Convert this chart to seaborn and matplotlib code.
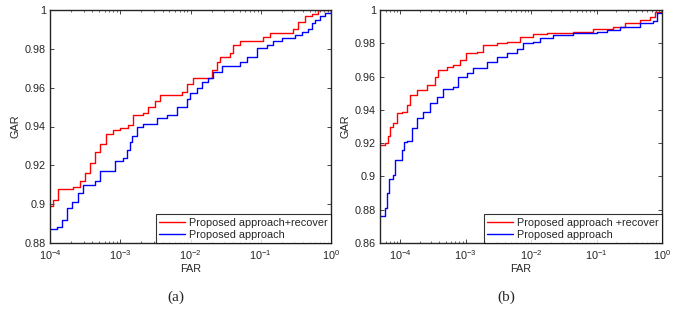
import numpy as np
import pandas as pd
import matplotlib
matplotlib.use("Agg")
import matplotlib.pyplot as plt
import seaborn as sns

# panel (a): log10(FAR) and GAR
a_recover_lgfar = [-4.000, -3.957, -3.886, -3.715, -3.673, -3.573, -3.502, -3.431, -3.359, -3.288,
                   -3.203, -3.103, -3.004, -2.890, -2.819, -2.676, -2.605, -2.505, -2.434, -2.249,
                   -2.121, -2.050, -1.964, -1.751, -1.694, -1.623, -1.580, -1.438, -1.395, -1.295,
                   -1.039, -0.968, -0.868, -0.541, -0.470, -0.370, -0.270, -0.185, 0.000]
a_recover_gar = [0.899, 0.902, 0.908, 0.908, 0.909, 0.912, 0.916, 0.921, 0.927, 0.931,
                 0.936, 0.938, 0.939, 0.941, 0.946, 0.947, 0.950, 0.953, 0.956, 0.956,
                 0.958, 0.962, 0.965, 0.965, 0.969, 0.973, 0.976, 0.978, 0.982, 0.984,
                 0.984, 0.986, 0.988, 0.990, 0.994, 0.997, 0.998, 1.000, 1.000]

a_plain_lgfar = [-4.000, -3.900, -3.829, -3.758, -3.687, -3.601, -3.530, -3.359, -3.288, -3.103,
                 -3.075, -2.961, -2.904, -2.861, -2.833, -2.762, -2.676, -2.477, -2.335, -2.192,
                 -2.050, -2.007, -1.907, -1.836, -1.751, -1.680, -1.552, -1.324, -1.295, -1.196,
                 -1.053, -0.911, -0.826, -0.698, -0.512, -0.413, -0.327, -0.270, -0.228, -0.157,
                 -0.085, 0.000]
a_plain_gar = [0.887, 0.888, 0.892, 0.898, 0.901, 0.906, 0.910, 0.912, 0.917, 0.917,
               0.922, 0.924, 0.928, 0.932, 0.935, 0.940, 0.9415, 0.9446, 0.946, 0.950,
               0.954, 0.957, 0.960, 0.963, 0.965, 0.968, 0.971, 0.971, 0.973, 0.9757,
               0.9805, 0.982, 0.984, 0.9856, 0.987, 0.9887, 0.990, 0.9933, 0.995, 0.997,
               0.9985, 1.000]

# panel (b)
b_recover_lgfar = [-4.306, -4.229, -4.183, -4.153, -4.107, -4.046, -3.969, -3.893, -3.847, -3.740,
                   -3.587, -3.465, -3.419, -3.281, -3.190, -3.083, -2.994, -2.823, -2.731, -2.517,
                   -2.364, -2.165, -1.966, -1.752, -1.355, -1.049, -0.743, -0.560, -0.330, -0.177,
                   -0.101, 0.000]
b_recover_gar = [0.919, 0.920, 0.924, 0.930, 0.932, 0.938, 0.939, 0.943, 0.949, 0.952,
                 0.955, 0.960, 0.964, 0.966, 0.967, 0.970, 0.974, 0.975, 0.979, 0.980,
                 0.981, 0.984, 0.9856, 0.986, 0.987, 0.9885, 0.990, 0.992, 0.994, 0.9958,
                 0.9988, 1.000]

b_plain_lgfar = [-4.306, -4.229, -4.199, -4.168, -4.107, -4.076, -4.031, -3.969, -3.939, -3.893,
                 -3.817, -3.740, -3.648, -3.541, -3.434, -3.343, -3.190, -3.113, -2.976, -2.884,
                 -2.670, -2.517, -2.364, -2.211, -2.119, -1.966, -1.859, -1.661, -1.355, -0.988,
                 -0.835, -0.636, -0.330, -0.131, -0.070, 0.000]
b_plain_gar = [0.8764, 0.881, 0.890, 0.8986, 0.901, 0.910, 0.910, 0.916, 0.9208, 0.9215,
               0.929, 0.935, 0.9388, 0.944, 0.948, 0.9525, 0.954, 0.960, 0.962, 0.965,
               0.9688, 0.9718, 0.974, 0.9766, 0.980, 0.981, 0.983, 0.985, 0.986, 0.9868,
               0.988, 0.9898, 0.992, 0.9934, 0.998, 1.000]

label_recover_a = "Proposed approach+recover"
label_recover_b = "Proposed approach +recover"
label_plain = "Proposed approach"

sns.set_style("ticks")
plt.rcParams["font.family"] = ["Liberation Sans", "DejaVu Sans"]
plt.rcParams["mathtext.fontset"] = "custom"
plt.rcParams["mathtext.rm"] = "Liberation Sans"
plt.rcParams["xtick.direction"] = "in"
plt.rcParams["ytick.direction"] = "in"

fig = plt.figure(figsize=(6.78, 3.11), dpi=100)
ax_a = fig.add_axes([50 / 678, 1 - 243 / 311, 281 / 678, 233 / 311])
ax_b = fig.add_axes([380 / 678, 1 - 243 / 311, 282 / 678, 233 / 311])


def draw_panel(ax, rec_x, rec_y, pl_x, pl_y, rec_label, xlim, ylim, yticks):
    sns.lineplot(x=10 ** np.array(rec_x), y=rec_y, ax=ax, color="red", lw=1.0,
                 drawstyle="steps-post", estimator=None, sort=False, label=rec_label)
    sns.lineplot(x=10 ** np.array(pl_x), y=pl_y, ax=ax, color="blue", lw=1.0,
                 drawstyle="steps-post", estimator=None, sort=False, label=label_plain)
    ax.set_xscale("log")
    ax.set_xlim(*xlim)
    ax.set_ylim(*ylim)
    ax.set_yticks(yticks)
    ax.set_yticklabels([("%g" % t) for t in yticks])
    ax.set_xticks([1e-4, 1e-3, 1e-2, 1e-1, 1e0])
    ax.tick_params(which="both", top=True, right=True, labelsize=7.8)
    ax.tick_params(axis="x", pad=4)
    ax.tick_params(axis="y", pad=3)
    ax.tick_params(which="major", length=3, width=0.6)
    ax.tick_params(which="minor", length=1.5, width=0.5)
    for s in ax.spines.values():
        s.set_linewidth(1.0)
    ax.set_xlabel("FAR", fontsize=7.8, labelpad=1)
    ax.set_ylabel("GAR", fontsize=7.8, labelpad=3)
    leg = ax.legend(loc="lower right", fontsize=7.8, frameon=True, fancybox=False,
                    borderaxespad=0, handlelength=2.4, handletextpad=0.4,
                    borderpad=0.3, labelspacing=0.2)
    leg.get_frame().set_edgecolor("black")
    leg.get_frame().set_linewidth(0.8)


draw_panel(ax_a, a_recover_lgfar, a_recover_gar, a_plain_lgfar, a_plain_gar, label_recover_a,
           (1e-4, 1.0), (0.88, 1.0), [0.88, 0.9, 0.92, 0.94, 0.96, 0.98, 1.0])
draw_panel(ax_b, b_recover_lgfar, b_recover_gar, b_plain_lgfar, b_plain_gar, label_recover_b,
           (10 ** -4.306, 1.0), (0.86, 1.0), [0.86, 0.88, 0.9, 0.92, 0.94, 0.96, 0.98, 1.0])

fig.text(176 / 678, 1 - 297 / 311, "(a)", family="Liberation Serif", fontsize=11,
         ha="center", va="center")
fig.text(506 / 678, 1 - 297 / 311, "(b)", family="Liberation Serif", fontsize=11,
         ha="center", va="center")

fig.savefig("out.png", dpi=100)
